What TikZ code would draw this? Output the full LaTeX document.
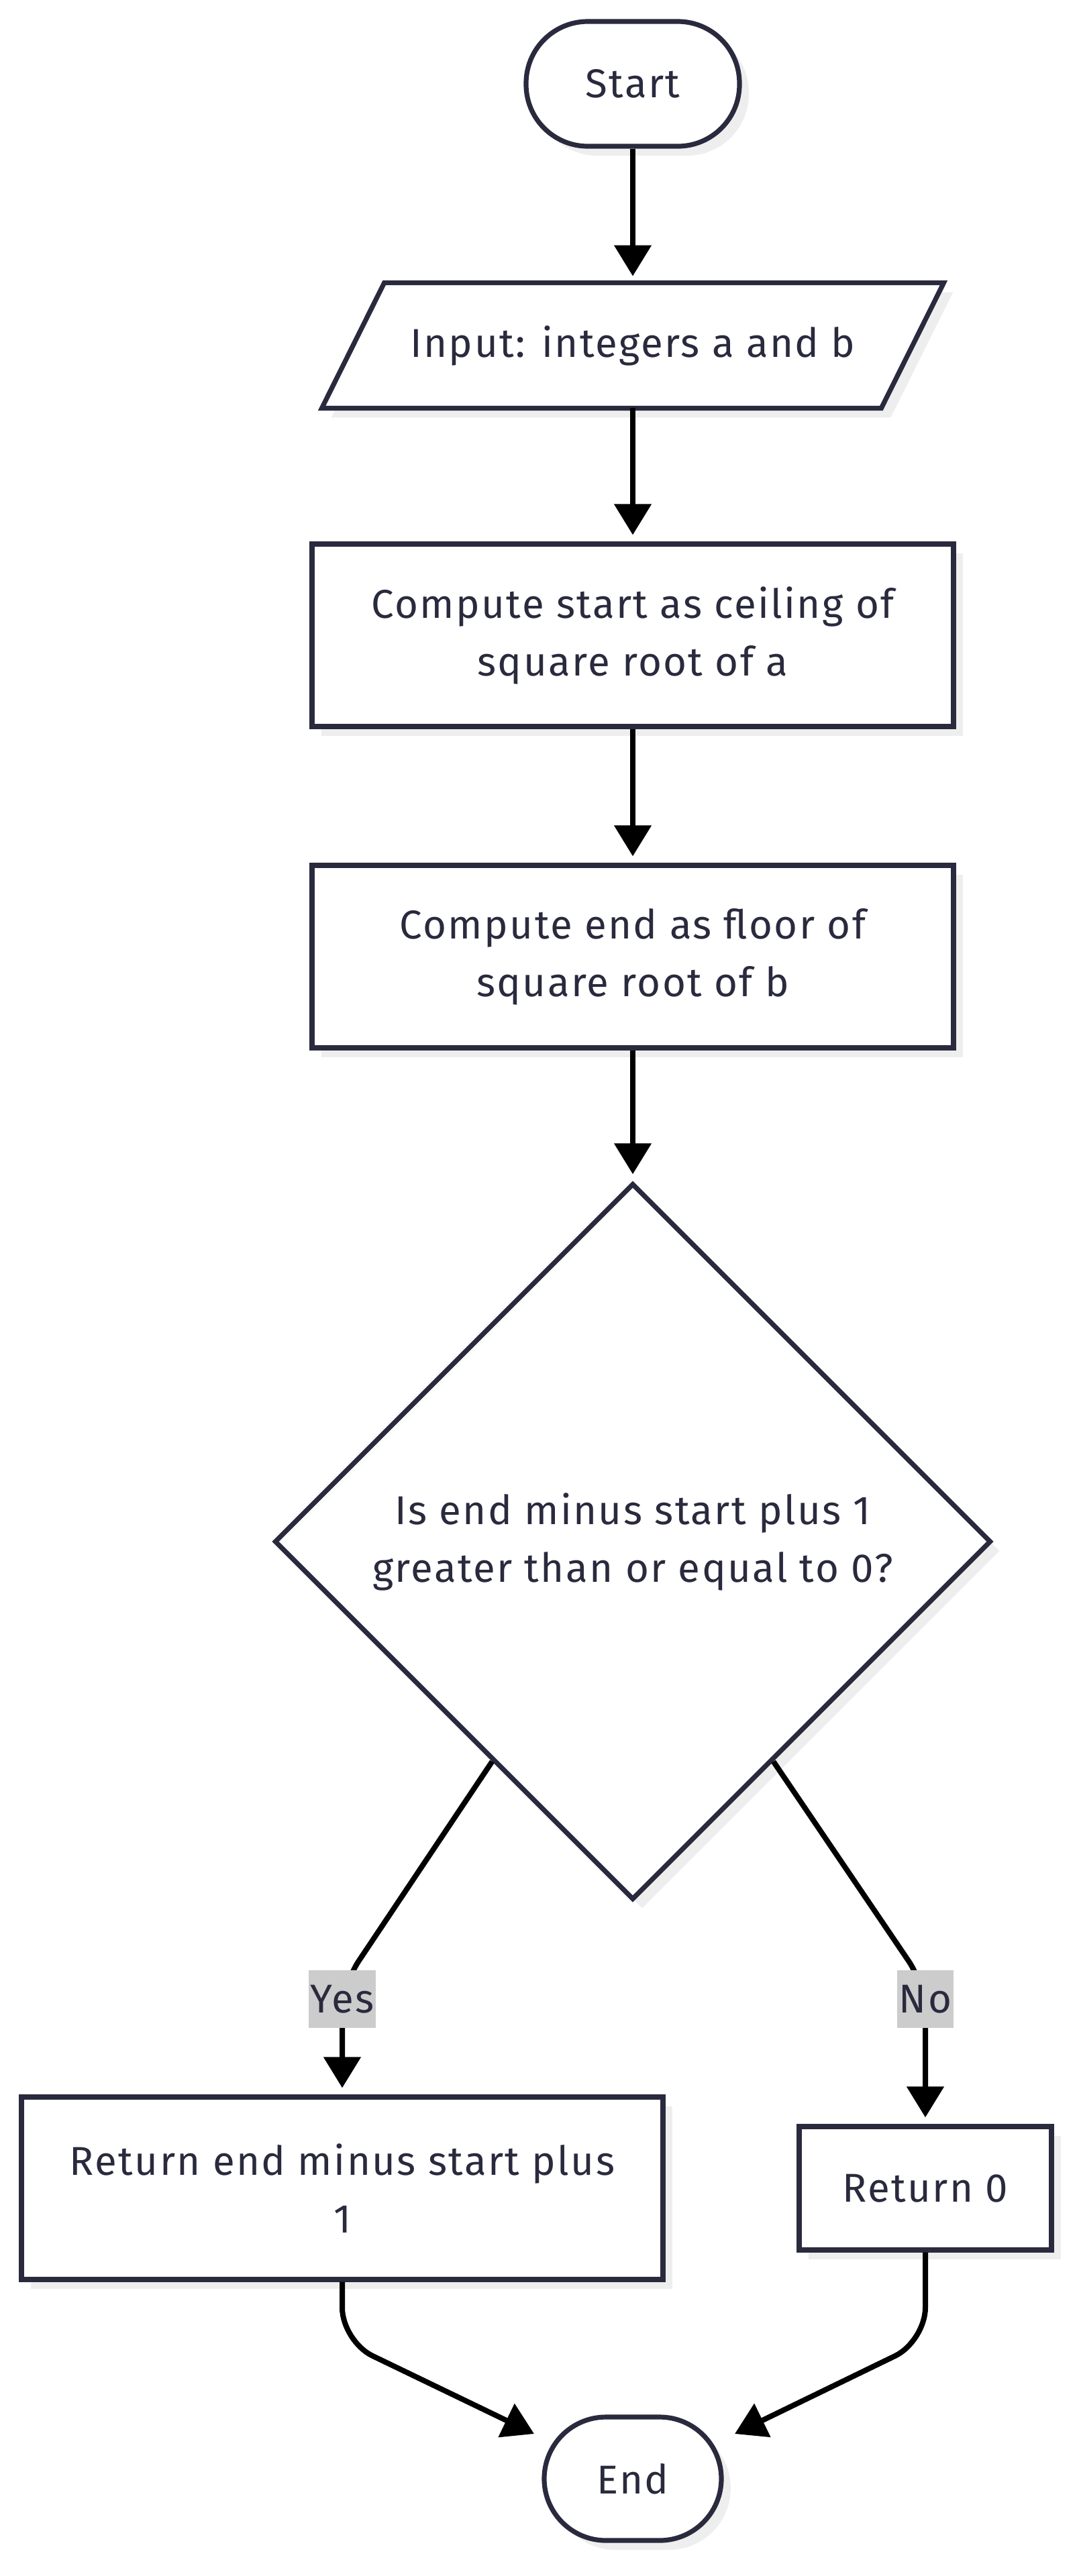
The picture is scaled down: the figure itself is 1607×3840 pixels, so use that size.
\documentclass[tikz,border=0pt]{standalone}
\usepackage{fontspec}
\setmainfont{Fira Sans}[LetterSpace=4]
\usetikzlibrary{arrows.meta,shapes.geometric,shadows,calc}
\definecolor{ink}{HTML}{2A2A3E}
\definecolor{shade}{HTML}{EEEEEE}
\definecolor{lblbg}{HTML}{CCCCCC}
\tikzset{
  txt/.style={text=ink, font=\fontsize{30}{43}\selectfont, align=center},
  shadowed/.style={drop shadow={shadow xshift=7pt, shadow yshift=-7pt, fill=shade, opacity=1}},
  base/.style={txt, draw=ink, line width=3.6pt, fill=white, inner sep=0pt, shadowed},
  term/.style={base, rectangle, rounded corners=46pt, minimum width=159pt, minimum height=93pt},
  proc/.style={base, rectangle, minimum width=478pt, minimum height=136pt},
  dec/.style={base, diamond, aspect=1, minimum width=534pt, minimum height=534pt},
  flow/.style={draw=black, line width=4pt, -{Triangle[width=27pt,length=23pt]}, shorten >=5pt},
  lbl/.style={txt, fill=lblbg, inner xsep=1.5pt, inner ysep=0pt, minimum height=43pt}
}
\begin{document}
\begin{tikzpicture}[x=0.5pt, y=-0.5pt]
\useasboundingbox (0,0) rectangle (1607,3840);
\fill[white] (0,0) rectangle (1607,3840);

\node[term] (start) at (943,125) {Start};

\node[txt, minimum width=463pt, minimum height=93pt, inner sep=0pt] (input) at (943,515) {};
\draw[draw=ink, line width=3.6pt, fill=white, shadowed]
  ($(input.north west)+(93,0)$) -- (input.north east) -- ($(input.south east)+(-93,0)$) -- (input.south west) -- cycle;
\node[txt] at (input.center) {Input: integers a and b};

\node[proc] (ceil) at (943,947) {Compute start as ceiling of\\square root of a};
\node[proc] (floor) at (943,1426) {Compute end as floor of\\square root of b};
\node[dec] (dec) at (943,2298) {Is end minus start plus 1\\greater than or equal to 0?};
\node[proc] (ret1) at (510,3262) {Return end minus start plus\\1};
\node[base, rectangle, minimum width=188pt, minimum height=92pt] (ret0) at (1379,3262) {Return 0};
\node[term, rounded corners=46pt, minimum width=132pt, minimum height=92pt] (end) at (943,3695) {End};

\draw[flow] (start) -- (input);
\draw[flow] (input) -- (ceil);
\draw[flow] (ceil) -- (floor);
\draw[flow] (floor) -- (dec);

\coordinate (yesout) at ($(dec.west)!0.61!(dec.south)$);
\coordinate (noout) at ($(dec.east)!0.61!(dec.south)$);
\coordinate (yesbend) at (510,2960);
\coordinate (nobend) at (1379,2960);
\draw[flow, rounded corners=22pt] (yesout) -- (yesbend) -- (ret1.north);
\draw[flow, rounded corners=22pt] (noout) -- (nobend) -- (ret0.north);
\node[lbl] (yes) at (510,2980) {Yes};
\node[lbl] (no) at (1379,2980) {No};

\coordinate (lcorner) at (510,3490);
\coordinate (rcorner) at (1379,3490);
\coordinate (endl) at ($(end.center)+(-147,-67)$);
\coordinate (endr) at ($(end.center)+(152,-67)$);
\draw[flow, rounded corners=25pt, shorten >=0pt] (ret1.south) -- (lcorner) -- (endl);
\draw[flow, rounded corners=25pt, shorten >=0pt] (ret0.south) -- (rcorner) -- (endr);
\end{tikzpicture}
\end{document}
